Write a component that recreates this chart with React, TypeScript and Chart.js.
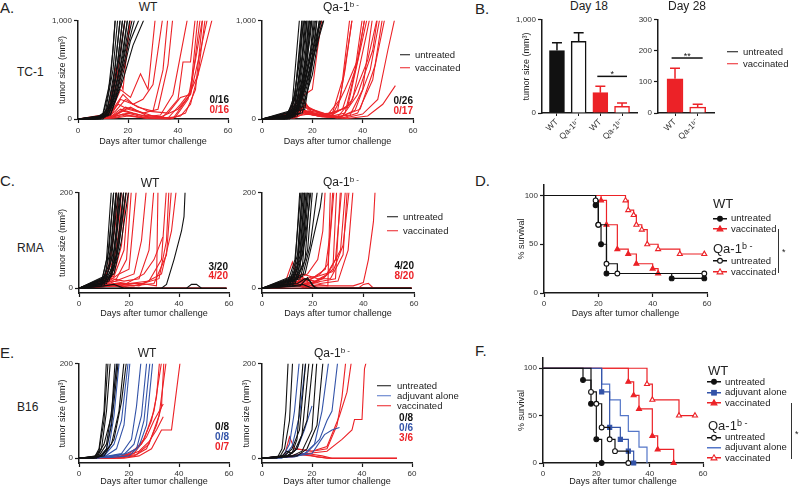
import React, { useEffect, useRef } from "react";
import { Chart, registerables } from "chart.js";

Chart.register(...registerables);

const FONT = "'Liberation Sans', Arial, Helvetica, sans-serif";
Chart.defaults.font.family = FONT;
Chart.defaults.color = "#222";

const RED = "#ec2227";
const BLUE = "#3353a8";
const BLUE_LIGHT = "#5476c8";
const BLACK = "#111111";
const AXIS = "#1a1a1a";

// ---------------- data ----------------
const dayTicks = [0, 20, 40, 60];
const tc1YTicks = [0, 1000];
const smallYTicks = [0, 200];
const survivalYTicks = [0, 50, 100];

// A. TC-1 individual tumor growth (pairs: day, mm3)
const tc1WtUntreated = [
  [0, 0, 7, 0, 10, 40, 12, 250, 14, 700, 15, 1050],
  [0, 0, 7, 5, 10, 60, 13, 400, 15, 1050],
  [0, 0, 8, 0, 11, 80, 14, 500, 16, 1050],
  [0, 0, 8, 10, 11, 50, 14, 350, 17, 1050],
  [0, 0, 9, 0, 12, 120, 15, 550, 17, 1050],
  [0, 0, 9, 5, 12, 80, 15, 400, 18, 1050],
  [0, 0, 9, 10, 13, 150, 16, 600, 18, 1050],
  [0, 0, 10, 0, 13, 100, 16, 450, 19, 1050],
  [0, 0, 10, 20, 13, 120, 17, 700, 19, 1050],
  [0, 0, 10, 10, 14, 180, 17, 550, 20, 1050],
  [0, 0, 11, 30, 14, 200, 18, 650, 20, 1050],
  [0, 0, 11, 20, 15, 250, 18, 600, 21, 1050],
  [0, 0, 12, 40, 15, 200, 19, 700, 22, 1050],
  [0, 0, 12, 30, 16, 300, 20, 750, 23, 1050],
  [0, 0, 13, 50, 17, 350, 21, 800, 25, 1050],
  [0, 0, 13, 40, 18, 400, 22, 750, 27, 1050],
];
const tc1WtVaccinated = [
  [0, 0, 10, 20, 13, 150, 16, 500, 19, 1050],
  [0, 0, 10, 10, 13, 200, 15, 510, 18, 300, 21, 1050],
  [0, 0, 11, 20, 14, 120, 17, 300, 21, 220, 25, 460, 28, 300, 31, 1050],
  [0, 0, 11, 10, 14, 100, 18, 250, 22, 150, 26, 200, 30, 350, 34, 1050],
  [0, 0, 12, 20, 15, 80, 19, 200, 24, 120, 30, 80, 34, 500, 36, 1050],
  [0, 0, 12, 30, 16, 150, 20, 100, 26, 60, 32, 100, 36, 550, 38, 1050],
  [0, 0, 12, 10, 16, 60, 21, 120, 27, 40, 34, 20, 40, 200, 42, 580, 45, 580, 47, 1050],
  [0, 0, 13, 20, 17, 100, 22, 60, 28, 20, 36, 10, 41, 150, 45, 280, 48, 1050],
  [0, 0, 13, 30, 17, 200, 22, 150, 28, 80, 36, 60, 41, 220, 45, 250, 49, 1050],
  [0, 0, 13, 10, 18, 50, 24, 20, 32, 10, 39, 20, 44, 200, 47, 600, 50, 1050],
  [0, 0, 14, 20, 18, 80, 25, 40, 33, 20, 40, 100, 45, 250, 49, 700, 52, 1050],
  [0, 0, 14, 10, 19, 40, 27, 10, 35, 5, 41, 30, 45, 150, 50, 650, 54, 1050],
  [0, 0, 14, 20, 19, 120, 24, 80, 30, 30, 38, 5, 44, 220, 48, 450, 51, 1050],
  [0, 0, 15, 10, 20, 30, 28, 5, 37, 0, 43, 60, 47, 300, 50, 1050],
  [0, 0, 12, 50, 16, 350, 19, 600, 21, 1050],
  [0, 0, 15, 30, 20, 60, 26, 20, 33, 40, 38, 250, 44, 1050],
];
const tc1QaUntreated = [
  [0, 0, 9, 10, 12, 150, 15, 1050],
  [0, 0, 9, 0, 12, 100, 15, 600, 16, 1050],
  [0, 0, 10, 20, 13, 200, 16, 1050],
  [0, 0, 10, 10, 13, 150, 15, 500, 16.5, 1050],
  [0, 0, 10, 0, 13, 120, 16, 650, 17, 1050],
  [0, 0, 10, 30, 13, 250, 15, 700, 17, 1050],
  [0, 0, 11, 20, 14, 200, 16, 600, 17.5, 1050],
  [0, 0, 11, 10, 14, 150, 17, 700, 18, 1050],
  [0, 0, 11, 30, 14, 300, 17, 800, 18, 1050],
  [0, 0, 11, 0, 14, 100, 17, 500, 18.5, 1050],
  [0, 0, 12, 40, 15, 250, 17, 600, 19, 1050],
  [0, 0, 12, 20, 15, 200, 18, 700, 19, 1050],
  [0, 0, 12, 10, 15, 150, 18, 600, 19.5, 1050],
  [0, 0, 12, 30, 16, 400, 18, 700, 20, 1050],
  [0, 0, 13, 50, 16, 300, 19, 800, 20, 1050],
  [0, 0, 13, 30, 16, 250, 19, 600, 20.5, 1050],
  [0, 0, 13, 20, 17, 400, 20, 800, 21, 1050],
  [0, 0, 13, 40, 17, 350, 20, 750, 21.5, 1050],
  [0, 0, 14, 60, 17, 300, 20, 650, 22, 1050],
  [0, 0, 14, 30, 18, 500, 21, 800, 22, 1050],
  [0, 0, 14, 80, 18, 400, 21, 700, 23, 1050],
  [0, 0, 15, 50, 18, 350, 22, 800, 23, 1050],
  [0, 0, 15, 100, 19, 500, 22, 900, 24, 1050],
  [0, 0, 16, 60, 19, 400, 22, 850, 24, 1050],
  [0, 0, 16, 120, 20, 450, 23, 900, 25, 1050],
  [0, 0, 17, 100, 20, 600, 24, 950, 25, 1050],
];
const tc1QaVaccinated = [
  [0, 0, 10, 20, 13, 150, 17, 250, 20, 300, 22, 700, 24, 1050],
  [0, 0, 10, 30, 13, 200, 16, 80, 22, 50, 28, 60, 32, 400, 35, 1050],
  [0, 0, 11, 20, 14, 150, 18, 60, 24, 40, 30, 80, 33, 500, 36, 1050],
  [0, 0, 11, 40, 14, 120, 18, 50, 25, 30, 32, 100, 37, 500, 40, 1050],
  [0, 0, 11, 10, 15, 100, 20, 40, 26, 20, 33, 60, 38, 600, 41, 1050],
  [0, 0, 12, 30, 15, 180, 19, 80, 26, 50, 34, 120, 39, 700, 42, 1050],
  [0, 0, 12, 20, 16, 90, 22, 30, 30, 20, 36, 200, 41, 800, 43, 1050],
  [0, 0, 12, 50, 16, 200, 20, 60, 27, 30, 35, 150, 42, 600, 46, 1050],
  [0, 0, 13, 30, 16, 100, 22, 40, 30, 10, 37, 90, 43, 500, 47, 1050],
  [0, 0, 13, 10, 17, 60, 24, 20, 32, 10, 38, 60, 44, 400, 48, 1050],
  [0, 0, 13, 40, 17, 140, 23, 60, 31, 20, 39, 100, 45, 550, 49, 1050],
  [0, 0, 14, 20, 18, 80, 25, 30, 33, 10, 40, 50, 46, 200, 50, 700, 53, 1050],
  [0, 0, 14, 30, 18, 50, 26, 20, 34, 5, 42, 30, 48, 150, 53, 340],
  [0, 0, 12, 60, 15, 250, 19, 100, 26, 40, 31, 200, 34, 700, 36, 1050],
  [0, 0, 11, 30, 14, 100, 20, 50, 28, 40, 33, 300, 38, 600, 41, 1050],
  [0, 0, 12, 10, 16, 70, 24, 30, 32, 30, 38, 250, 44, 700, 46, 1050],
  [0, 0, 13, 20, 17, 120, 22, 80, 29, 20, 35, 40, 40, 300, 44, 1050],
];

// B. tumor size bars
const day18Labels = ["WT", "Qa-1ᵇ⁻", "WT", "Qa-1ᵇ⁻"];
const day18Means = [671, 768, 218, 71];
const day18Sem = [83, 93, 68, 36];
const day18SigValue = 393;
const day18YTicks = [0, 1000];
const day28Labels = ["WT", "Qa-1ᵇ⁻"];
const day28Means = [110, 19];
const day28Sem = [34, 9];
const day28SigValue = 177;
const day28YTicks = [0, 100, 200, 300];

// C. RMA individual tumor growth
const rmaWtUntreated = [
  [0, 0, 9, 10, 11, 60, 13, 210],
  [0, 0, 9, 5, 11, 40, 13, 150, 14, 210],
  [0, 0, 9, 15, 12, 80, 14, 210],
  [0, 0, 9, 8, 12, 50, 14, 160, 15, 210],
  [0, 0, 10, 12, 12, 40, 14, 120, 15, 210],
  [0, 0, 10, 20, 13, 90, 15, 210],
  [0, 0, 10, 5, 13, 60, 15, 170, 16, 210],
  [0, 0, 10, 10, 13, 40, 15, 120, 16, 210],
  [0, 0, 11, 15, 13, 30, 16, 160, 17, 210],
  [0, 0, 11, 25, 14, 80, 16, 180, 17, 210],
  [0, 0, 11, 10, 14, 50, 17, 210],
  [0, 0, 12, 20, 14, 40, 17, 150, 18, 210],
  [0, 0, 12, 30, 15, 70, 18, 210],
  [0, 0, 12, 15, 15, 60, 18, 170, 19, 210],
  [0, 0, 13, 25, 16, 90, 19, 210],
  [0, 0, 14, 30, 17, 100, 20, 210],
  [0, 0, 33, 0, 35, 8, 38, 60, 41, 120, 42, 150, 42.5, 210],
  [0, 0, 43, 0, 45, 8, 47, 8, 49, 0, 59, 0],
  [0, 0, 10, 5, 14, 8, 18, 0, 59, 0],
  [0, 0, 59, 0],
];
const rmaWtVaccinated = [
  [0, 0, 9, 10, 12, 50, 14, 120, 15, 210],
  [0, 0, 9, 15, 12, 40, 15, 150, 16, 210],
  [0, 0, 10, 10, 13, 30, 16, 120, 17, 210],
  [0, 0, 10, 20, 13, 50, 16, 100, 18, 210],
  [0, 0, 10, 5, 14, 30, 17, 90, 19, 210],
  [0, 0, 11, 20, 14, 25, 18, 80, 20, 210],
  [0, 0, 11, 10, 15, 20, 19, 60, 21, 210],
  [0, 0, 12, 15, 16, 30, 20, 40, 23, 210],
  [0, 0, 12, 10, 17, 20, 22, 30, 25, 100, 27, 210],
  [0, 0, 13, 20, 18, 15, 24, 20, 28, 80, 30, 210],
  [0, 0, 12, 5, 18, 10, 25, 10, 31, 5, 31.6, 210],
  [0, 0, 13, 15, 19, 10, 26, 30, 30, 60, 33.5, 107],
  [0, 0, 14, 10, 20, 10, 28, 15, 33, 60, 35, 210],
  [0, 0, 14, 5, 21, 5, 30, 10, 35, 70, 37, 210],
  [0, 0, 16, 10, 24, 5, 33, 30, 37, 120, 39, 210],
  [0, 0, 15, 10, 22, 5, 32, 20, 35, 100, 36, 210],
  [0, 0, 11, 5, 15, 10, 20, 0, 59, 0],
  [0, 0, 12, 8, 16, 5, 22, 0, 59, 0],
  [0, 0, 10, 3, 14, 6, 18, 0, 59, 0],
  [0, 0, 13, 5, 17, 3, 24, 0, 59, 0],
];
const rmaQaUntreated = [
  [0, 0, 10, 5, 13, 40, 15, 210],
  [0, 0, 10, 10, 13, 60, 15.5, 210],
  [0, 0, 11, 5, 14, 50, 16, 210],
  [0, 0, 11, 15, 14, 70, 16, 210],
  [0, 0, 11, 10, 14, 40, 16.5, 210],
  [0, 0, 12, 20, 15, 80, 17, 210],
  [0, 0, 12, 10, 15, 60, 17, 210],
  [0, 0, 12, 5, 15, 40, 17.5, 210],
  [0, 0, 13, 15, 16, 70, 18, 210],
  [0, 0, 13, 25, 16, 90, 18, 210],
  [0, 0, 13, 10, 16, 50, 18.5, 210],
  [0, 0, 14, 20, 17, 60, 19, 210],
  [0, 0, 14, 30, 17, 100, 19.5, 210],
  [0, 0, 15, 20, 18, 80, 20, 210],
  [0, 0, 16, 25, 19, 90, 22, 210],
  [0, 0, 17, 30, 20, 100, 23, 170, 24, 210],
  [0, 0, 14, 10, 17, 20, 19, 15, 21, 0, 59, 0],
  [0, 0, 15, 5, 18, 22, 20, 5, 22, 0, 59, 0],
  [0, 0, 12, 5, 16, 8, 20, 0, 59, 0],
  [0, 0, 59, 0],
];
const rmaQaVaccinated = [
  [0, 0, 9, 10, 12, 55, 14, 20, 18, 30, 22, 60, 24, 120, 25, 210],
  [0, 0, 10, 5, 13, 30, 17, 20, 21, 25, 25, 40, 27, 120, 28, 210],
  [0, 0, 10, 10, 14, 20, 18, 15, 23, 30, 26, 50, 28.5, 210],
  [0, 0, 11, 15, 15, 25, 19, 10, 24, 20, 28, 40, 29.5, 210],
  [0, 0, 11, 5, 15, 15, 20, 10, 25, 25, 29, 60, 31.5, 210],
  [0, 0, 12, 10, 16, 20, 21, 15, 26, 30, 31, 80, 33, 210],
  [0, 0, 12, 20, 16, 30, 22, 20, 27, 20, 32, 70, 33.7, 210],
  [0, 0, 13, 10, 17, 15, 22, 25, 28, 35, 32, 90, 34.5, 210],
  [0, 0, 12, 8, 17, 20, 23, 10, 30, 15, 34, 80, 36, 210],
  [0, 0, 13, 12, 18, 10, 24, 15, 29, 20, 31, 210],
  [0, 0, 14, 5, 20, 10, 26, 5, 27, 210],
  [0, 0, 15, 8, 22, 5, 36, 5, 40, 12, 42, 60, 44, 140, 44.7, 210],
  [0, 0, 11, 10, 15, 15, 19, 5, 24, 0, 59, 0],
  [0, 0, 10, 5, 14, 10, 18, 0, 59, 0],
  [0, 0, 12, 6, 16, 4, 20, 0, 59, 0],
  [0, 0, 9, 3, 13, 8, 17, 0, 59, 0],
  [0, 0, 11, 4, 15, 12, 19, 2, 23, 0, 59, 0],
  [0, 0, 38, 0, 40, 8, 42, 10, 44, 0, 59, 0],
  [0, 0, 13, 6, 18, 3, 22, 0, 59, 0],
  [0, 0, 59, 0],
];

// D. RMA survival (pairs: day, % survival)
const rmaSurvWtUntreated = [0, 100, 19, 90, 20, 70, 21, 50, 23, 20, 47, 15, 59, 15];
const rmaSurvWtVaccinated = [0, 100, 21, 95, 23, 70, 27, 45, 31, 40, 34, 30, 40, 25, 42, 20, 59, 20];
const rmaSurvQaUntreated = [0, 100, 19, 95, 20, 70, 23, 30, 27, 20, 59, 20];
const rmaSurvQaVaccinated = [0, 100, 30, 95, 31, 85, 33, 80, 34, 70, 36, 65, 38, 50, 42, 45, 50, 40, 59, 40];

// E. B16 individual tumor growth
const b16WtUntreated = [
  [0, 0, 6, 0, 8, 20, 10, 100, 11, 210],
  [0, 0, 6, 2, 8, 15, 10, 80, 11.7, 210],
  [0, 0, 7, 0, 9, 20, 11, 100, 12.6, 210],
  [0, 0, 7, 5, 10, 30, 12, 70, 13, 90, 14.5, 210],
  [0, 0, 8, 5, 11, 30, 13, 100, 15.4, 210],
  [0, 0, 8, 2, 11, 20, 13, 70, 15.8, 210],
  [0, 0, 9, 5, 13, 30, 16, 100, 18.1, 210],
  [0, 0, 10, 5, 14, 40, 17, 120, 19.1, 210],
];
const b16WtAdjuvant = [
  [0, 0, 8, 0, 11, 20, 13, 80, 15.2, 210],
  [0, 0, 9, 2, 12, 25, 14, 90, 16.2, 210],
  [0, 0, 10, 5, 14, 30, 17, 80, 19.8, 210],
  [0, 0, 10, 3, 15, 20, 18, 70, 20.5, 210],
  [0, 0, 12, 5, 17, 10, 21, 40, 23, 110, 24.9, 210],
  [0, 0, 12, 3, 18, 8, 22, 30, 25, 90, 27.2, 210],
  [0, 0, 13, 5, 19, 10, 23, 20, 26, 80, 28.5, 210],
  [0, 0, 13, 2, 20, 5, 24, 25, 27, 70, 29.6, 210],
];
const b16WtVaccinated = [
  [0, 0, 14, 0, 20, 10, 25, 30, 29, 80, 31, 130, 32.3, 210],
  [0, 0, 15, 2, 21, 10, 26, 40, 30, 100, 33.2, 210],
  [0, 0, 16, 0, 22, 5, 27, 20, 31, 70, 33, 110, 34, 210],
  [0, 0, 17, 3, 23, 8, 28, 30, 32, 90, 35, 210],
  [0, 0, 18, 0, 24, 5, 29, 20, 33, 60, 37, 60, 40.6, 210],
  [0, 0, 16, 2, 22, 10, 27, 45, 30, 80, 33.7, 115],
  [0, 0, 18, 3, 24, 15, 28, 35, 31, 60, 33.7, 88],
];
const b16QaUntreated = [
  [0, 0, 6, 0, 8, 20, 9.5, 100, 10.5, 210],
  [0, 0, 7, 2, 9, 20, 11, 80, 12.3, 210],
  [0, 0, 8, 5, 10, 15, 12, 10, 14, 40, 16.5, 210],
  [0, 0, 9, 5, 12, 20, 15, 60, 17.6, 210],
  [0, 0, 10, 3, 13, 15, 16, 50, 18.9, 210],
  [0, 0, 10, 5, 14, 20, 18, 80, 20.5, 210],
  [0, 0, 12, 5, 16, 15, 20, 60, 22, 210],
  [0, 0, 14, 5, 18, 20, 22, 70, 24.5, 210],
];
const b16QaAdjuvant = [
  [0, 0, 8, 0, 11, 30, 13, 100, 15, 210],
  [0, 0, 9, 5, 12, 25, 15, 90, 17.6, 210],
  [0, 0, 10, 5, 14, 20, 17, 60, 20, 111],
  [0, 0, 12, 5, 17, 10, 21, 30, 24, 100, 26.8, 210],
  [0, 0, 13, 3, 18, 12, 23, 40, 26, 80, 28, 100, 30.4, 210],
  [0, 0, 14, 5, 20, 10, 25, 50, 28, 60, 31, 65],
];
const b16QaVaccinated = [
  [0, 0, 9, 5, 11, 45, 13, 20, 20, 15, 26, 20, 30, 70, 32, 130, 33.6, 210],
  [0, 0, 10, 5, 14, 20, 20, 15, 26, 25, 31, 90, 34, 140, 35.9, 210],
  [0, 0, 12, 3, 18, 10, 26, 15, 32, 40, 36, 60, 37, 82, 40, 82, 41, 190, 42, 210],
  [0, 0, 10, 3, 14, 8, 20, 5, 26, 0, 54, 0],
  [0, 0, 12, 5, 16, 10, 22, 3, 27, 0, 54, 0],
  [0, 0, 8, 2, 12, 6, 18, 10, 24, 5, 28, 0, 54, 0],
];

// F. B16 survival
const b16SurvWtUntreated = [0, 100, 15, 87.5, 18, 62.5, 20, 25, 22, 0];
const b16SurvWtAdjuvant = [0, 100, 22, 75, 25, 37.5, 29, 25, 32, 12.5, 34, 0];
const b16SurvWtVaccinated = [0, 100, 32, 85.7, 34, 71.4, 36, 57.1, 41, 28.6, 43, 14.3, 49, 0];
const b16SurvQaUntreated = [0, 100, 18, 75, 20, 62.5, 22, 37.5, 25, 25, 27, 12.5, 32, 0];
const b16SurvQaAdjuvant = [0, 100, 22, 83.3, 25, 66.7, 29, 50, 32, 33.3, 36, 16.7, 39, 0];
const b16SurvQaVaccinated = [0, 100, 39, 83.3, 41, 66.7, 51, 50, 57, 50];

// ---------------- helpers ----------------
type Frame = { l: number; t: number; r: number; b: number; yW: number; xH: number; padT: number; padR: number };

function boxOf(f: Frame) {
  return {
    left: f.l - f.yW,
    top: f.t - f.padT,
    width: f.r - f.l + f.yW + f.padR,
    height: f.b - f.t + f.padT + f.xH,
  };
}

function toXY(a: number[]) {
  const out: { x: number; y: number }[] = [];
  for (let i = 0; i + 1 < a.length; i += 2) out.push({ x: a[i], y: a[i + 1] });
  return out;
}

const fixedTicks = (vals: number[]) => (scale: any) => {
  scale.ticks = vals.map((v) => ({ value: v }));
};

function baseOptions(f: Frame) {
  return {
    animation: false,
    responsive: false,
    maintainAspectRatio: false,
    events: [],
    layout: { padding: { left: 0, top: f.padT, right: f.padR, bottom: 0 }, autoPadding: false },
    plugins: { legend: { display: false }, tooltip: { enabled: false }, title: { display: false } },
  };
}

function xAxis(f: Frame, ticks: number[], min: number, max: number, title: string | null, tickPad: number) {
  return {
    type: "linear",
    min,
    max,
    offset: false,
    afterBuildTicks: fixedTicks(ticks),
    afterFit: (s: any) => {
      s.height = f.xH;
    },
    grid: { drawOnChartArea: false, drawTicks: true, tickLength: 4, color: AXIS, tickWidth: 1.2, offset: false },
    border: { display: true, color: AXIS, width: 1.5 },
    ticks: { font: { size: 8 }, color: "#333", padding: tickPad, maxRotation: 0, autoSkip: false },
    title: title
      ? { display: true, text: title, font: { size: 9 }, color: "#222", padding: { top: 0, bottom: 0 } }
      : { display: false },
  };
}

function yAxis(f: Frame, ticks: number[], min: number, max: number, title: { text: string; cx: number } | null) {
  const boxLeft = f.l - f.yW;
  return {
    type: "linear",
    min,
    max,
    afterBuildTicks: fixedTicks(ticks),
    afterFit: (s: any) => {
      s.width = f.yW;
    },
    grid: { drawOnChartArea: false, drawTicks: true, tickLength: 4, color: AXIS, tickWidth: 1.2 },
    border: { display: true, color: AXIS, width: 1.5 },
    ticks: {
      font: { size: 8 },
      color: "#333",
      padding: 2,
      callback: (v: any) => Number(v).toLocaleString("en-US"),
    },
    title: title
      ? {
          display: true,
          text: title.text,
          font: { size: 9 },
          color: "#222",
          padding: { top: Math.max(0, title.cx - boxLeft - 5.4), bottom: 0 },
        }
      : { display: false },
  };
}

const TUMOR_TITLE = "tumor size (mm³)";
const DAYS_TITLE = "Days after tumor challenge";

function tumorConfig(
  f: Frame,
  groups: { curves: number[][]; color: string }[],
  yMin: number,
  yMax: number,
  yTicks: number[],
  yTitleCx: number | null,
  xTickPad: number
) {
  const datasets: any[] = [];
  groups.forEach((g) =>
    g.curves.forEach((c) =>
      datasets.push({
        data: toXY(c),
        borderColor: g.color,
        borderWidth: 1.1,
        pointRadius: 0,
        fill: false,
        tension: 0,
        clip: { left: 3, top: 0, right: 3, bottom: 3 },
      })
    )
  );
  return {
    type: "line",
    data: { datasets },
    options: {
      ...baseOptions(f),
      scales: {
        x: xAxis(f, dayTicks, 0, 60, DAYS_TITLE, xTickPad),
        y: yAxis(f, yTicks, yMin, yMax, yTitleCx === null ? null : { text: TUMOR_TITLE, cx: yTitleCx }),
      },
    },
  };
}

type SurvSeries = { pts: number[]; color: string; style: string | false; filled: boolean; endMark: boolean };

function survivalConfig(f: Frame, series: SurvSeries[], yTitleCx: number) {
  const datasets = series.map((s) => {
    const data = toXY(s.pts);
    return {
      data,
      borderColor: s.color,
      borderWidth: 1.2,
      stepped: true,
      fill: false,
      clip: false,
      pointStyle: s.style || "circle",
      pointRadius: (ctx: any) => {
        if (!s.style) return 0;
        if (ctx.dataIndex === 0) return 0;
        if (!s.endMark && ctx.dataIndex === data.length - 1) return 0;
        return s.style === "circle" ? 2.4 : 2.9;
      },
      pointBackgroundColor: s.filled ? s.color : "#ffffff",
      pointBorderColor: s.color,
      pointBorderWidth: 1.1,
    };
  });
  return {
    type: "line",
    data: { datasets },
    options: {
      ...baseOptions(f),
      scales: {
        x: xAxis(f, dayTicks, 0, 60, DAYS_TITLE, 2),
        y: yAxis(f, survivalYTicks, 0, 111, { text: "% survival", cx: yTitleCx }),
      },
    },
  };
}

const barExtras = {
  id: "barExtras",
  afterDatasetsDraw(chart: any, _a: any, opts: any) {
    const { ctx } = chart;
    const xs = chart.scales.x;
    const ys = chart.scales.y;
    ctx.save();
    ctx.lineWidth = 1.5;
    opts.means.forEach((m: number, i: number) => {
      const px = xs.getPixelForValue(i + 1);
      const y0 = ys.getPixelForValue(m);
      const y1 = ys.getPixelForValue(m + opts.sems[i]);
      ctx.strokeStyle = opts.colors[i];
      ctx.beginPath();
      ctx.moveTo(px, y0);
      ctx.lineTo(px, y1);
      ctx.moveTo(px - 5, y1);
      ctx.lineTo(px + 5, y1);
      ctx.stroke();
    });
    const sy = ys.getPixelForValue(opts.sig.value);
    const sx0 = xs.getPixelForValue(opts.sig.from);
    const sx1 = xs.getPixelForValue(opts.sig.to);
    ctx.strokeStyle = "#111";
    ctx.beginPath();
    ctx.moveTo(sx0, sy);
    ctx.lineTo(sx1, sy);
    ctx.stroke();
    ctx.fillStyle = "#111";
    ctx.font = `9px ${FONT}`;
    ctx.textAlign = "center";
    ctx.textBaseline = "alphabetic";
    ctx.fillText(opts.sig.text, (sx0 + sx1) / 2, sy + 1);
    ctx.restore();
  },
};

function barConfig(
  f: Frame,
  labels: string[],
  means: number[],
  sems: number[],
  fills: string[],
  borders: string[],
  yMax: number,
  yTicks: number[],
  xMin: number,
  xMax: number,
  thickness: number,
  sig: { from: number; to: number; value: number; text: string },
  yTitleCx: number | null
) {
  const positions = labels.map((_, i) => i + 1);
  return {
    type: "bar",
    data: {
      datasets: [
        {
          data: means.map((m, i) => ({ x: positions[i], y: m })),
          backgroundColor: fills,
          borderColor: borders,
          borderWidth: 1.5,
          barThickness: thickness,
          borderSkipped: "bottom",
        },
      ],
    },
    plugins: [barExtras],
    options: {
      ...baseOptions(f),
      plugins: {
        legend: { display: false },
        tooltip: { enabled: false },
        barExtras: { means, sems, colors: borders, sig },
      },
      scales: {
        x: {
          type: "linear",
          min: xMin,
          max: xMax,
          offset: false,
          afterBuildTicks: fixedTicks(positions),
          afterFit: (s: any) => {
            s.height = f.xH;
          },
          grid: { drawOnChartArea: false, drawTicks: true, tickLength: 3, color: AXIS, offset: false },
          border: { display: true, color: AXIS, width: 1.5 },
          ticks: {
            font: { size: 8.5 },
            color: "#333",
            padding: 1,
            minRotation: 45,
            maxRotation: 45,
            autoSkip: false,
            callback: (v: any) => labels[Math.round(Number(v)) - 1],
          },
        },
        y: yAxis(f, yTicks, 0, yMax, yTitleCx === null ? null : { text: TUMOR_TITLE, cx: yTitleCx }),
      },
    },
  };
}

// ---------------- frames ----------------
const fA1: Frame = { l: 78, t: 20, r: 228, b: 119, yW: 28, xH: 28, padT: 6, padR: 8 };
const fA2: Frame = { l: 262, t: 20, r: 413, b: 119, yW: 28, xH: 28, padT: 6, padR: 8 };
const fB1: Frame = { l: 542, t: 19, r: 637, b: 113, yW: 26, xH: 40, padT: 6, padR: 4 };
const fB2: Frame = { l: 658, t: 19, r: 714, b: 113, yW: 22, xH: 40, padT: 6, padR: 4 };
const fC1: Frame = { l: 79, t: 192, r: 229, b: 293, yW: 29, xH: 26, padT: 6, padR: 8 };
const fC2: Frame = { l: 262, t: 192, r: 414, b: 293, yW: 28, xH: 26, padT: 6, padR: 8 };
const fD: Frame = { l: 544, t: 183, r: 707, b: 293, yW: 30, xH: 26, padT: 5, padR: 8 };
const fE1: Frame = { l: 79, t: 363, r: 229, b: 463, yW: 29, xH: 24, padT: 6, padR: 8 };
const fE2: Frame = { l: 262, t: 363, r: 412, b: 463, yW: 28, xH: 24, padT: 6, padR: 8 };
const fF: Frame = { l: 543, t: 356, r: 703, b: 463, yW: 30, xH: 24, padT: 5, padR: 8 };

// ---------------- components ----------------
function ChartBox({ frame, build }: { frame: Frame; build: () => any }) {
  const ref = useRef<HTMLCanvasElement | null>(null);
  const box = boxOf(frame);
  useEffect(() => {
    const chart = new Chart(ref.current as HTMLCanvasElement, build());
    return () => chart.destroy();
  }, []);
  return (
    <canvas
      ref={ref}
      width={box.width}
      height={box.height}
      style={{ position: "absolute", left: box.left, top: box.top, width: box.width, height: box.height }}
    />
  );
}

function Txt({
  x,
  y,
  children,
  size = 10,
  align = "left",
  color = "#222",
  bold = false,
}: {
  x: number;
  y: number;
  children: any;
  size?: number;
  align?: string;
  color?: string;
  bold?: boolean;
}) {
  const tx = align === "center" ? "-50%" : align === "right" ? "-100%" : "0";
  return (
    <div
      style={{
        position: "absolute",
        left: x,
        top: y,
        transform: `translate(${tx}, -50%)`,
        fontSize: size,
        lineHeight: 1,
        whiteSpace: "nowrap",
        color,
        fontWeight: bold ? 700 : 400,
        fontFamily: FONT,
      }}
    >
      {children}
    </div>
  );
}

function Qa({ sup = 8 }: { sup?: number }) {
  return (
    <span>
      Qa-1<span style={{ fontSize: sup, verticalAlign: "0.45em" }}>b -</span>
    </span>
  );
}

function LineKey({ x, y, len, color, label, size = 9.5, gap = 5 }: any) {
  return (
    <div style={{ position: "absolute", left: x, top: y, transform: "translateY(-50%)", display: "flex", alignItems: "center" }}>
      <div style={{ width: len, height: 0, borderTop: `1.4px solid ${color}` }} />
      <div style={{ marginLeft: gap, fontSize: size, lineHeight: 1, color: "#222", fontFamily: FONT, whiteSpace: "nowrap" }}>
        {label}
      </div>
    </div>
  );
}

function Sym({ color, shape, filled }: { color: string; shape: string | null; filled: boolean }) {
  const w = 14;
  const c = 4.5;
  const fill = filled ? color : "#fff";
  return (
    <svg width={w} height={9} style={{ display: "block" }}>
      <line x1={0} y1={c} x2={w} y2={c} stroke={color} strokeWidth={1.3} />
      {shape === "circle" && <circle cx={w / 2} cy={c} r={2.4} fill={fill} stroke={color} strokeWidth={1.1} />}
      {shape === "triangle" && (
        <polygon points={`${w / 2},${c - 3} ${w / 2 + 2.9},${c + 2.1} ${w / 2 - 2.9},${c + 2.1}`} fill={fill} stroke={color} strokeWidth={1.1} />
      )}
      {shape === "rect" && <rect x={w / 2 - 2.3} y={c - 2.3} width={4.6} height={4.6} fill={fill} stroke={color} strokeWidth={1.1} />}
    </svg>
  );
}

function SymKey({ x, y, color, shape, filled, label }: any) {
  return (
    <div style={{ position: "absolute", left: x, top: y, transform: "translateY(-50%)", display: "flex", alignItems: "center" }}>
      <Sym color={color} shape={shape} filled={filled} />
      <div style={{ marginLeft: 4, fontSize: 9.5, lineHeight: 1, color: "#222", fontFamily: FONT, whiteSpace: "nowrap" }}>{label}</div>
    </div>
  );
}

function VLine({ x, y1, y2 }: { x: number; y1: number; y2: number }) {
  return <div style={{ position: "absolute", left: x, top: y1, width: 0, height: y2 - y1, borderLeft: "1.3px solid #333" }} />;
}

// ---------------- app ----------------
export default function App() {
  return (
    <div
      style={{
        position: "absolute",
        left: 0,
        top: 0,
        width: 800,
        height: 487,
        overflow: "hidden",
        background: "#ffffff",
        fontFamily: FONT,
        color: "#222",
      }}
    >
      {/* A */}
      <ChartBox
        frame={fA1}
        build={() =>
          tumorConfig(fA1, [{ curves: tc1WtUntreated, color: BLACK }, { curves: tc1WtVaccinated, color: RED }], 0, 1000, tc1YTicks, 63, 3)
        }
      />
      <ChartBox
        frame={fA2}
        build={() =>
          tumorConfig(fA2, [{ curves: tc1QaUntreated, color: BLACK }, { curves: tc1QaVaccinated, color: RED }], 0, 1000, tc1YTicks, null, 3)
        }
      />
      {/* B */}
      <ChartBox
        frame={fB1}
        build={() =>
          barConfig(
            fB1,
            day18Labels,
            day18Means,
            day18Sem,
            [BLACK, "#ffffff", RED, "#ffffff"],
            [BLACK, BLACK, RED, RED],
            1000,
            day18YTicks,
            0.31,
            4.69,
            15,
            { from: 2.86, to: 4.23, value: day18SigValue, text: "*" },
            527
          )
        }
      />
      <ChartBox
        frame={fB2}
        build={() =>
          barConfig(
            fB2,
            day28Labels,
            day28Means,
            day28Sem,
            [RED, "#ffffff"],
            [RED, RED],
            300,
            day28YTicks,
            0.25,
            2.72,
            16,
            { from: 0.85, to: 2.22, value: day28SigValue, text: "**" },
            null
          )
        }
      />
      {/* C */}
      <ChartBox
        frame={fC1}
        build={() =>
          tumorConfig(fC1, [{ curves: rmaWtUntreated, color: BLACK }, { curves: rmaWtVaccinated, color: RED }], -10, 200, smallYTicks, 63, 1.5)
        }
      />
      <ChartBox
        frame={fC2}
        build={() =>
          tumorConfig(fC2, [{ curves: rmaQaUntreated, color: BLACK }, { curves: rmaQaVaccinated, color: RED }], -10, 200, smallYTicks, null, 1.5)
        }
      />
      {/* D */}
      <ChartBox
        frame={fD}
        build={() =>
          survivalConfig(
            fD,
            [
              { pts: rmaSurvQaUntreated, color: BLACK, style: "circle", filled: false, endMark: true },
              { pts: rmaSurvWtUntreated, color: BLACK, style: "circle", filled: true, endMark: true },
              { pts: rmaSurvQaVaccinated, color: RED, style: "triangle", filled: false, endMark: true },
              { pts: rmaSurvWtVaccinated, color: RED, style: "triangle", filled: true, endMark: false },
            ],
            521.7
          )
        }
      />
      {/* E */}
      <ChartBox
        frame={fE1}
        build={() =>
          tumorConfig(
            fE1,
            [
              { curves: b16WtUntreated, color: BLACK },
              { curves: b16WtAdjuvant, color: BLUE },
              { curves: b16WtVaccinated, color: RED },
            ],
            -10,
            200,
            smallYTicks,
            63,
            2
          )
        }
      />
      <ChartBox
        frame={fE2}
        build={() =>
          tumorConfig(
            fE2,
            [
              { curves: b16QaUntreated, color: BLACK },
              { curves: b16QaAdjuvant, color: BLUE },
              { curves: b16QaVaccinated, color: RED },
            ],
            -10,
            200,
            smallYTicks,
            246.7,
            2
          )
        }
      />
      {/* F */}
      <ChartBox
        frame={fF}
        build={() =>
          survivalConfig(
            fF,
            [
              { pts: b16SurvQaUntreated, color: BLACK, style: "circle", filled: false, endMark: true },
              { pts: b16SurvWtUntreated, color: BLACK, style: "circle", filled: true, endMark: true },
              { pts: b16SurvWtAdjuvant, color: BLUE, style: "rect", filled: true, endMark: true },
              { pts: b16SurvQaAdjuvant, color: BLUE_LIGHT, style: false, filled: false, endMark: false },
              { pts: b16SurvQaVaccinated, color: RED, style: "triangle", filled: false, endMark: true },
              { pts: b16SurvWtVaccinated, color: RED, style: "triangle", filled: true, endMark: true },
            ],
            521.7
          )
        }
      />

      {/* panel letters & row labels */}
      <Txt x={0} y={7} size={15}>A.</Txt>
      <Txt x={475} y={8} size={15}>B.</Txt>
      <Txt x={0} y={180} size={15}>C.</Txt>
      <Txt x={475} y={180} size={15}>D.</Txt>
      <Txt x={0} y={352} size={15}>E.</Txt>
      <Txt x={475} y={350} size={15}>F.</Txt>
      <Txt x={17} y={72} size={12}>TC-1</Txt>
      <Txt x={17} y={248} size={12}>RMA</Txt>
      <Txt x={17} y={407} size={12}>B16</Txt>

      {/* chart titles */}
      <Txt x={148} y={7} size={12} align="center">WT</Txt>
      <Txt x={341} y={7} size={12} align="center"><Qa /></Txt>
      <Txt x={589} y={6} size={12} align="center">Day 18</Txt>
      <Txt x={687} y={6} size={12} align="center">Day 28</Txt>
      <Txt x={150} y={183} size={12} align="center">WT</Txt>
      <Txt x={341} y={182} size={12} align="center"><Qa /></Txt>
      <Txt x={147} y={353} size={12} align="center">WT</Txt>
      <Txt x={332} y={353} size={12} align="center"><Qa /></Txt>

      {/* tumor-free counts */}
      <Txt x={229} y={100} size={10} align="right" bold color={BLACK}>0/16</Txt>
      <Txt x={229} y={110} size={10} align="right" bold color={RED}>0/16</Txt>
      <Txt x={413} y={100.5} size={10} align="right" bold color={BLACK}>0/26</Txt>
      <Txt x={413} y={110.5} size={10} align="right" bold color={RED}>0/17</Txt>
      <Txt x={228} y={266.5} size={10} align="right" bold color={BLACK}>3/20</Txt>
      <Txt x={228} y={276} size={10} align="right" bold color={RED}>4/20</Txt>
      <Txt x={414} y={265.5} size={10} align="right" bold color={BLACK}>4/20</Txt>
      <Txt x={414} y={275.5} size={10} align="right" bold color={RED}>8/20</Txt>
      <Txt x={229} y={427.3} size={10} align="right" bold color={BLACK}>0/8</Txt>
      <Txt x={229} y={437.3} size={10} align="right" bold color={BLUE}>0/8</Txt>
      <Txt x={229} y={447.3} size={10} align="right" bold color={RED}>0/7</Txt>
      <Txt x={413} y={418.3} size={10} align="right" bold color={BLACK}>0/8</Txt>
      <Txt x={413} y={428.3} size={10} align="right" bold color={BLUE}>0/6</Txt>
      <Txt x={413} y={438.3} size={10} align="right" bold color={RED}>3/6</Txt>

      {/* line legends */}
      <LineKey x={400} y={55} len={10} color={BLACK} label="untreated" />
      <LineKey x={400} y={68} len={10} color={RED} label="vaccinated" />
      <LineKey x={727} y={52} len={11} color={BLACK} label="untreated" />
      <LineKey x={727} y={64} len={11} color={RED} label="vaccinated" />
      <LineKey x={387} y={217} len={11} color={BLACK} label="untreated" />
      <LineKey x={387} y={230.7} len={11} color={RED} label="vaccinated" />
      <LineKey x={377} y={385.7} len={14} color={BLACK} label="untreated" gap={6} />
      <LineKey x={377} y={396} len={14} color={BLUE_LIGHT} label="adjuvant alone" gap={6} />
      <LineKey x={377} y={406} len={14} color={RED} label="vaccinated" gap={6} />

      {/* D legend */}
      <Txt x={713} y={203} size={13}>WT</Txt>
      <SymKey x={713} y={218.3} color={BLACK} shape="circle" filled label="untreated" />
      <SymKey x={713} y={229} color={RED} shape="triangle" filled label="vaccinated" />
      <Txt x={713} y={249} size={13}><Qa sup={9} /></Txt>
      <SymKey x={713} y={260.7} color={BLACK} shape="circle" filled={false} label="untreated" />
      <SymKey x={713} y={271.7} color={RED} shape="triangle" filled={false} label="vaccinated" />
      <VLine x={777.5} y1={229} y2={273.3} />
      <Txt x={782} y={252} size={9}>*</Txt>

      {/* F legend */}
      <Txt x={708} y={370} size={13}>WT</Txt>
      <SymKey x={707} y={381.7} color={BLACK} shape="circle" filled label="untreated" />
      <SymKey x={707} y={392.3} color={BLUE} shape="rect" filled label="adjuvant alone" />
      <SymKey x={707} y={402.7} color={RED} shape="triangle" filled label="vaccinated" />
      <Txt x={708} y={426} size={13}><Qa sup={9} /></Txt>
      <SymKey x={707} y={437.3} color={BLACK} shape="circle" filled={false} label="untreated" />
      <SymKey x={707} y={447.3} color={BLUE_LIGHT} shape={null} filled={false} label="adjuvant alone" />
      <SymKey x={707} y={457.7} color={RED} shape="triangle" filled={false} label="vaccinated" />
      <VLine x={790.5} y1={403.3} y2={459.3} />
      <Txt x={795} y={433.5} size={9}>*</Txt>
    </div>
  );
}
